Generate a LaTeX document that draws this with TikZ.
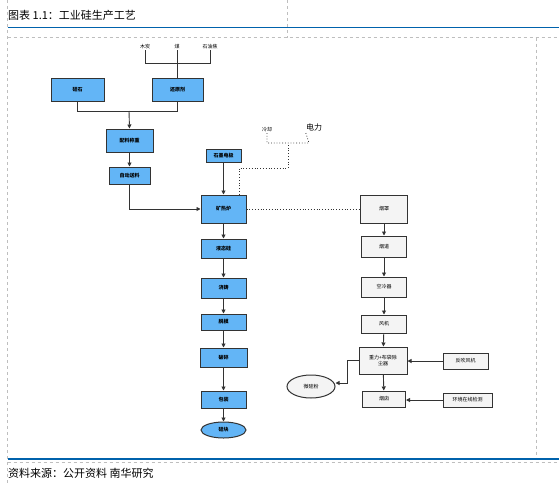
\documentclass[tikz,border=0pt]{standalone}
\usepackage{fontspec}
\setmainfont{Noto Sans CJK SC}
\usetikzlibrary{positioning,arrows.meta,shapes.geometric}
\definecolor{procblue}{RGB}{99,181,246}
\definecolor{boxgray}{RGB}{244,244,244}
\definecolor{linegray}{RGB}{51,51,51}
\definecolor{framegray}{RGB}{190,190,190}
\definecolor{rulerblue}{RGB}{0,98,172}
\tikzstyle{block} = [draw=linegray, fill=procblue, rectangle, line width=1pt, inner sep=1pt, font=\fontsize{5}{6}\selectfont\bfseries]
\tikzstyle{gblock} = [block, fill=boxgray, font=\fontsize{5}{6}\selectfont]
\tikzstyle{oval} = [block, ellipse]
\tikzstyle{tag} = [inner sep=0.5pt, font=\fontsize{5}{6}\selectfont]
\tikzstyle{wire} = [draw=linegray, line width=0.9pt]
\tikzstyle{flow} = [wire, -{Triangle[length=4pt,width=4pt]}]
\tikzstyle{dots} = [draw=linegray, line width=0.8pt, dotted]
\tikzstyle{frame} = [draw=framegray, line width=0.5pt, dashed]
\tikzstyle{ruler} = [draw=rulerblue, line width=1.2pt]

\begin{document}
\begin{tikzpicture}[x=1pt,y=-1pt]
		\useasboundingbox (0,0) rectangle (559,483);

		% page frame
		\draw[frame] (7.5,0) -- (7.5,483);
		\draw[frame] (287,0) -- (287,37.5);
		\draw[frame] (7.5,37.5) -- (559,37.5);
		\draw[frame] (536,37.5) -- (536,459);
		\draw[frame] (7.5,462) -- (559,462);
		\draw[ruler] (7.5,27.5) -- (559,27.5);
		\draw[ruler] (7.5,459) -- (559,459);
		\node[anchor=west, inner sep=0, font=\fontsize{11}{13}\selectfont] (title) at (8,15) {图表 1.1：工业硅生产工艺};
		\node[anchor=west, inner sep=0, font=\fontsize{11}{13}\selectfont] (source) at (8,473) {资料来源：公开资料 南华研究};

		% raw materials
		\node[tag] (muta) at (145,47) {木炭};
		\node[tag] (mei) at (177,47) {煤};
		\node[tag] (shiyou) at (210,47) {石油焦};
		\node[block, minimum width=53pt, minimum height=23pt] (silica) at (77.5,89.5) {硅石};
		\node[block, minimum width=51pt, minimum height=23pt] (reduc) at (177.5,89.5) {还原剂};
		\coordinate (brk) at (177,63);
		\coordinate (merge) at (129,111);

		% left column
		\node[block, minimum width=47pt, minimum height=23pt] (peiliao) at (129.5,140.5) {配料称重};
		\node[block, minimum width=41pt, minimum height=17pt] (songliao) at (129.5,175.5) {自动送料};
		\node[block, minimum width=35pt, minimum height=13pt] (dianji) at (223.5,155.5) {石墨电极};
		\node[block, minimum width=45pt, minimum height=28pt] (furnace) at (223.5,209) {矿热炉};
		\node[block, minimum width=45pt, minimum height=19pt] (yetai) at (223.5,248.5) {液态硅};
		\node[block, minimum width=45pt, minimum height=20pt] (jiaozhu) at (223.5,288) {浇铸};
		\node[block, minimum width=45pt, minimum height=16pt] (tuomo) at (223.5,322) {脱模};
		\node[block, minimum width=47pt, minimum height=19pt] (posui) at (223.5,357.5) {破碎};
		\node[block, minimum width=45pt, minimum height=17pt] (baozhuang) at (223.5,399.5) {包装};
		\node[oval, minimum width=45pt, minimum height=16pt] (guikuai) at (223.5,430) {硅块};

		% power and cooling
		\node[tag] (lengque) at (267,130) {冷却};
		\node[inner sep=0.5pt, font=\fontsize{8}{9}\selectfont] (dianli) at (314,127) {电力};
		\coordinate (c1) at (239,168);
		\coordinate (c2) at (288,168);
		\coordinate (c3) at (288,143);
		\coordinate (c4) at (267,143);
		\coordinate (c5) at (309,143);

		% right column
		\node[gblock, minimum width=47pt, minimum height=28pt] (yanzhao) at (384,209) {烟罩};
		\node[gblock, minimum width=45pt, minimum height=21pt] (yandao) at (384,246.5) {烟道};
		\node[gblock, minimum width=45pt, minimum height=20pt] (kongleng) at (384,287) {空冷器};
		\node[gblock, minimum width=45pt, minimum height=18pt] (fengji) at (384,324) {风机};
		\node[gblock, minimum width=48pt, minimum height=27pt, align=center] (chuchen) at (383,360.5) {重力+布袋除\\尘器};
		\node[gblock, minimum width=43pt, minimum height=16pt] (yancong) at (384,399) {烟囱};
		\node[gblock, minimum width=45pt, minimum height=16pt] (fanchui) at (465.5,361) {反吹风机};
		\node[gblock, minimum width=49pt, minimum height=14pt] (huanjing) at (467.5,400) {环境在线检测};
		\node[gblock, ellipse, minimum width=48pt, minimum height=23pt] (weiguifen) at (311,386.5) {微硅粉};
		\coordinate (dustbend) at (347,383);

		% join raw materials
		\draw[wire] (muta.south) -- (muta.south |- brk) -- (shiyou.south |- brk) -- (shiyou.south);
		\draw[wire] (mei.south) -- (mei.south |- reduc.north);
		\draw[wire] (silica.south) -- (silica.south |- merge) -- (reduc.south |- merge) -- (reduc.south);
		\draw[flow] (merge) -- (peiliao.north);

		% join left column
		\draw[flow] (peiliao) -- (songliao);
		\draw[flow] (songliao.south) |- (furnace.west);
		\draw[flow] (dianji) -- (furnace);
		\draw[flow] (furnace) -- (yetai);
		\draw[flow] (yetai) -- (jiaozhu);
		\draw[flow] (jiaozhu) -- (tuomo);
		\draw[flow] (tuomo) -- (posui);
		\draw[flow] (posui) -- (baozhuang);
		\draw[flow] (baozhuang) -- (guikuai);

		% dotted supply lines
		\draw[dots] (furnace.north -| c1) -- (c1) -- (c2) -- (c3);
		\draw[dots] (lengque.south -| c4) -- (c4) -- (c5) -- (dianli.south west);
		\draw[dots] (furnace) -- (yanzhao);

		% join right column
		\draw[flow] (yanzhao) -- (yandao);
		\draw[flow] (yandao) -- (kongleng);
		\draw[flow] (kongleng) -- (fengji);
		\draw[flow] (fengji) -- (chuchen);
		\draw[flow] (chuchen) -- (yancong);
		\draw[flow] (fanchui.west) -- (fanchui.west -| chuchen.east);
		\draw[flow] (huanjing.west) -- (huanjing.west -| yancong.east);
		\draw[flow] (chuchen.west) -| (dustbend) -- (dustbend -| weiguifen.east);
	\end{tikzpicture}
\end{document}
